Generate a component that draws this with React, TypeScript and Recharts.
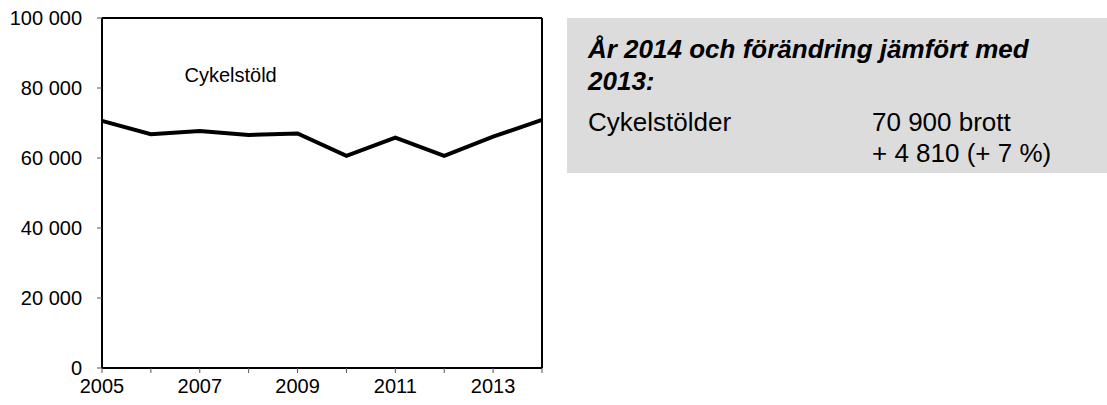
import { LineChart, Line, XAxis, YAxis, ReferenceLine, ReferenceDot } from 'recharts'

const years = [2005, 2006, 2007, 2008, 2009, 2010, 2011, 2012, 2013, 2014]
const cykelstolder = [70600, 66800, 67700, 66600, 67000, 60600, 65800, 60600, 66090, 70900]
const yTicks = [0, 20000, 40000, 60000, 80000, 100000]
const labeledYears = [2005, 2007, 2009, 2011, 2013]

const seriesName = 'Cykelstöld'
const boxTitle = ['År 2014 och förändring jämfört med', '2013:']
const boxRow = { label: 'Cykelstölder', value: '70 900 brott', change: '+ 4 810 (+ 7 %)' }

const data = years.map((year, i) => ({ year, value: cykelstolder[i] }))

const FONT = '"Liberation Sans", Arial, sans-serif'

function formatThousands(v: number): string {
  return String(v).replace(/\B(?=(\d{3})+(?!\d))/g, ' ')
}

export default function App() {
  return (
    <div style={{ position: 'absolute', left: 0, top: 0, width: 1107, height: 405, background: '#fff', fontFamily: FONT }}>
      <LineChart
        width={560}
        height={405}
        data={data}
        margin={{ top: 18, right: 18, left: 0, bottom: 0 }}
      >
        <XAxis
          dataKey="year"
          type="number"
          domain={[2005, 2014]}
          ticks={years}
          interval={0}
          tickFormatter={(v: number) => (labeledYears.includes(v) ? String(v) : '')}
          height={37}
          axisLine={{ stroke: '#000', strokeWidth: 2 }}
          tickLine={{ stroke: '#555', strokeWidth: 1 }}
          tickSize={5}
          tickMargin={6}
          tick={{ fontSize: 20, fill: '#000', fontFamily: FONT }}
        />
        <YAxis
          type="number"
          domain={[0, 100000]}
          ticks={yTicks}
          interval={0}
          width={102}
          tickFormatter={formatThousands}
          axisLine={{ stroke: '#000', strokeWidth: 2 }}
          tickLine={{ stroke: '#555', strokeWidth: 1 }}
          tickSize={5}
          tickMargin={15}
          tick={{ fontSize: 20, fill: '#000', fontFamily: FONT }}
        />
        <ReferenceLine y={100000} stroke="#000" strokeWidth={2} />
        <ReferenceLine x={2014} stroke="#000" strokeWidth={2} />
        <ReferenceDot
          x={2007.63}
          y={83700}
          r={0}
          fill="none"
          stroke="none"
          label={{ value: seriesName, position: 'center', fontSize: 20, fill: '#000', fontFamily: FONT }}
        />
        <Line
          type="linear"
          dataKey="value"
          stroke="#000"
          strokeWidth={4}
          dot={false}
          isAnimationActive={false}
        />
      </LineChart>

      <div
        style={{
          position: 'absolute',
          left: 567,
          top: 18,
          width: 540,
          height: 155,
          background: '#dcdcdc',
          boxSizing: 'border-box',
          paddingLeft: 21,
          paddingTop: 15,
          color: '#000',
        }}
      >
        <div style={{ fontSize: 26, lineHeight: '32px', fontWeight: 'bold', fontStyle: 'italic' }}>
          {boxTitle.map((t) => (
            <div key={t}>{t}</div>
          ))}
        </div>
        <div style={{ display: 'flex', fontSize: 26, lineHeight: '31px', marginTop: 10 }}>
          <div style={{ width: 284 }}>{boxRow.label}</div>
          <div>
            <div>{boxRow.value}</div>
            <div>{boxRow.change}</div>
          </div>
        </div>
      </div>
    </div>
  )
}
